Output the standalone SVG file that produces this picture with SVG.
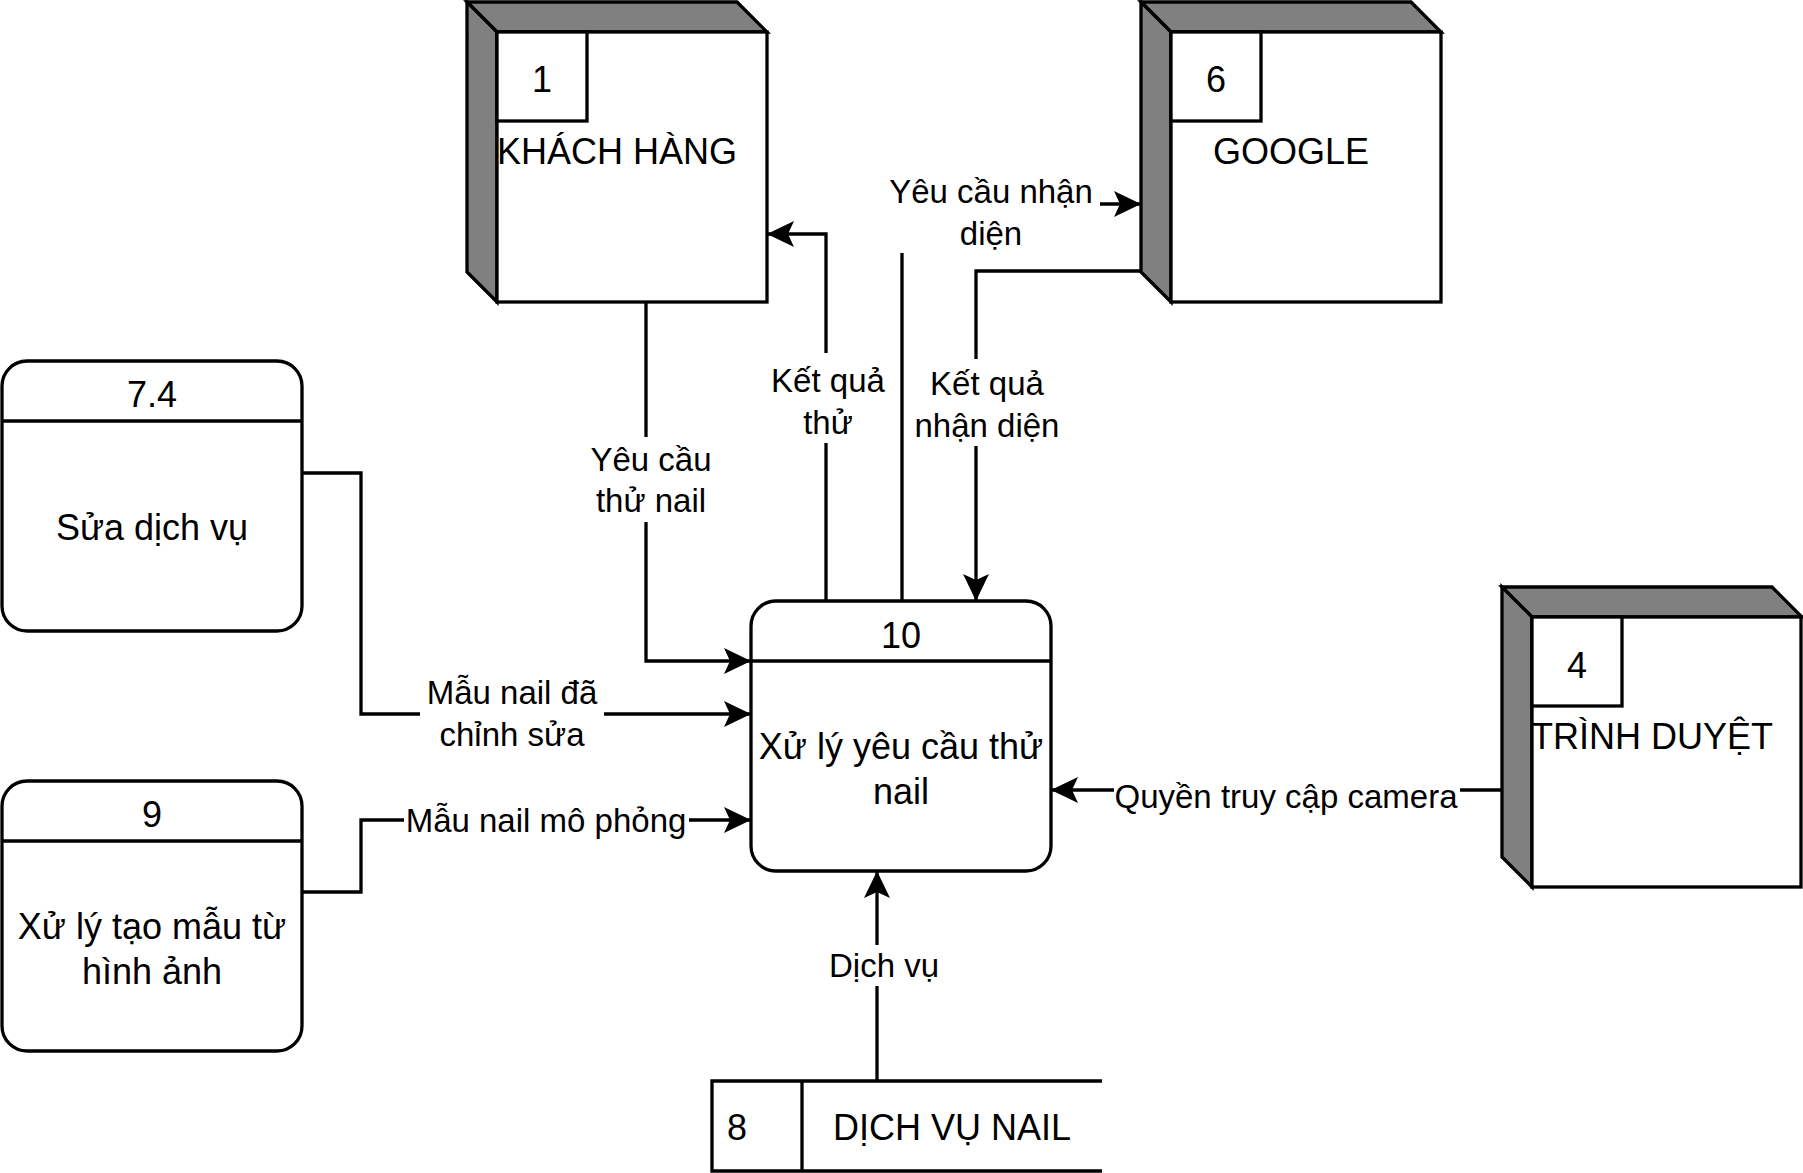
<svg xmlns="http://www.w3.org/2000/svg" width="1803" height="1173" viewBox="0 0 1803 1173">
<style>
.ln{fill:none;stroke:#000;stroke-width:3.3}
.bx{fill:#fff;stroke:#000;stroke-width:3.3}
.dk{fill:#808080;stroke:#000;stroke-width:3.3;stroke-linejoin:miter}
.t{font-family:"Liberation Sans",Arial,sans-serif;font-size:36px;fill:#000;text-anchor:middle}
.l{font-family:"Liberation Sans",Arial,sans-serif;font-size:33px;fill:#000;text-anchor:middle}
.bg{fill:#fff;stroke:none}
</style>
<defs>
<marker id="arr" viewBox="0 0 27 26" refX="26" refY="13" markerWidth="27" markerHeight="26" markerUnits="userSpaceOnUse" orient="auto">
<path d="M0,0 L27,13 L0,26 L6,13 Z" fill="#000"/>
</marker>
</defs>
<rect width="1803" height="1173" fill="#fff"/>

<g id="connectors">
<path class="ln" d="M646,302 V661 H750" marker-end="url(#arr)"/>
<path class="ln" d="M826,601 V234 H768" marker-end="url(#arr)"/>
<path class="ln" d="M902,601 V204 H1140" marker-end="url(#arr)"/>
<path class="ln" d="M1141,271 H976 V600" marker-end="url(#arr)"/>
<path class="ln" d="M302,473 H361 V714 H750" marker-end="url(#arr)"/>
<path class="ln" d="M302,892 H361 V820 H750" marker-end="url(#arr)"/>
<path class="ln" d="M1502,790 H1052" marker-end="url(#arr)"/>
<path class="ln" d="M877,1081 V872" marker-end="url(#arr)"/>
</g>

<g id="labels">
<rect class="bg" x="589" y="437" width="124" height="85"/>
<text class="l" x="651" y="471">Yêu cầu</text>
<text class="l" x="651" y="512">thử nail</text>
<rect class="bg" x="768" y="353" width="120" height="90"/>
<text class="l" x="828" y="392">Kết quả</text>
<text class="l" x="828" y="434">thử</text>
<rect class="bg" x="886" y="168" width="214" height="85"/>
<text class="l" x="991" y="203">Yêu cầu nhận</text>
<text class="l" x="991" y="245">diện</text>
<rect class="bg" x="912" y="359" width="150" height="87"/>
<text class="l" x="987" y="395">Kết quả</text>
<text class="l" x="987" y="437">nhận diện</text>
<rect class="bg" x="420" y="671" width="184" height="84"/>
<text class="l" x="512" y="704">Mẫu nail đã</text>
<text class="l" x="512" y="746">chỉnh sửa</text>
<rect class="bg" x="404" y="800" width="285" height="40"/>
<text class="l" x="546" y="832">Mẫu nail mô phỏng</text>
<rect class="bg" x="1114" y="776" width="346" height="40"/>
<text class="l" x="1286" y="808">Quyền truy cập camera</text>
<rect class="bg" x="826" y="945" width="116" height="41"/>
<text class="l" x="884" y="977">Dịch vụ</text>
</g>

<g id="node1">
<polygon class="dk" points="467,2 737,2 767,32 497,32"/>
<polygon class="dk" points="467,2 497,32 497,302 467,272"/>
<rect class="bx" x="497" y="32" width="270" height="270"/>
<rect class="bx" x="497" y="32" width="90" height="89"/>
<text class="t" x="542" y="92">1</text>
<text class="t" x="617" y="164">KHÁCH HÀNG</text>
</g>

<g id="node6">
<polygon class="dk" points="1141,2 1411,2 1441,32 1171,32"/>
<polygon class="dk" points="1141,2 1171,32 1171,302 1141,272"/>
<rect class="bx" x="1171" y="32" width="270" height="270"/>
<rect class="bx" x="1171" y="32" width="90" height="89"/>
<text class="t" x="1216" y="92">6</text>
<text class="t" x="1291" y="164">GOOGLE</text>
</g>

<g id="node4">
<polygon class="dk" points="1502,587 1772,587 1802,617 1532,617"/>
<polygon class="dk" points="1502,587 1532,617 1532,887 1502,857"/>
<rect class="bx" x="1532" y="617" width="269" height="270"/>
<rect class="bx" x="1532" y="617" width="90" height="89"/>
<text class="t" x="1577" y="678">4</text>
<text class="t" x="1652" y="749">TRÌNH DUYỆT</text>
</g>

<g id="node7_4">
<rect class="bx" x="2" y="361" width="300" height="270" rx="25"/>
<line class="ln" x1="2" y1="421" x2="302" y2="421"/>
<text class="t" x="152" y="407">7.4</text>
<text class="t" x="152" y="540">Sửa dịch vụ</text>
</g>

<g id="node9">
<rect class="bx" x="2" y="781" width="300" height="270" rx="25"/>
<line class="ln" x1="2" y1="841" x2="302" y2="841"/>
<text class="t" x="152" y="827">9</text>
<text class="t" x="152" y="939">Xử lý tạo mẫu từ</text>
<text class="t" x="152" y="984">hình ảnh</text>
</g>

<g id="node10">
<rect class="bx" x="751" y="601" width="300" height="270" rx="25"/>
<line class="ln" x1="751" y1="661" x2="1051" y2="661"/>
<text class="t" x="901" y="648">10</text>
<text class="t" x="901" y="759">Xử lý yêu cầu thử</text>
<text class="t" x="901" y="804">nail</text>
</g>

<g id="node8">
<path class="ln" d="M1102,1081 H712 V1171 H1102 M802,1081 V1171"/>
<text class="t" x="737" y="1140">8</text>
<text class="t" x="952" y="1140">DỊCH VỤ NAIL</text>
</g>
</svg>
